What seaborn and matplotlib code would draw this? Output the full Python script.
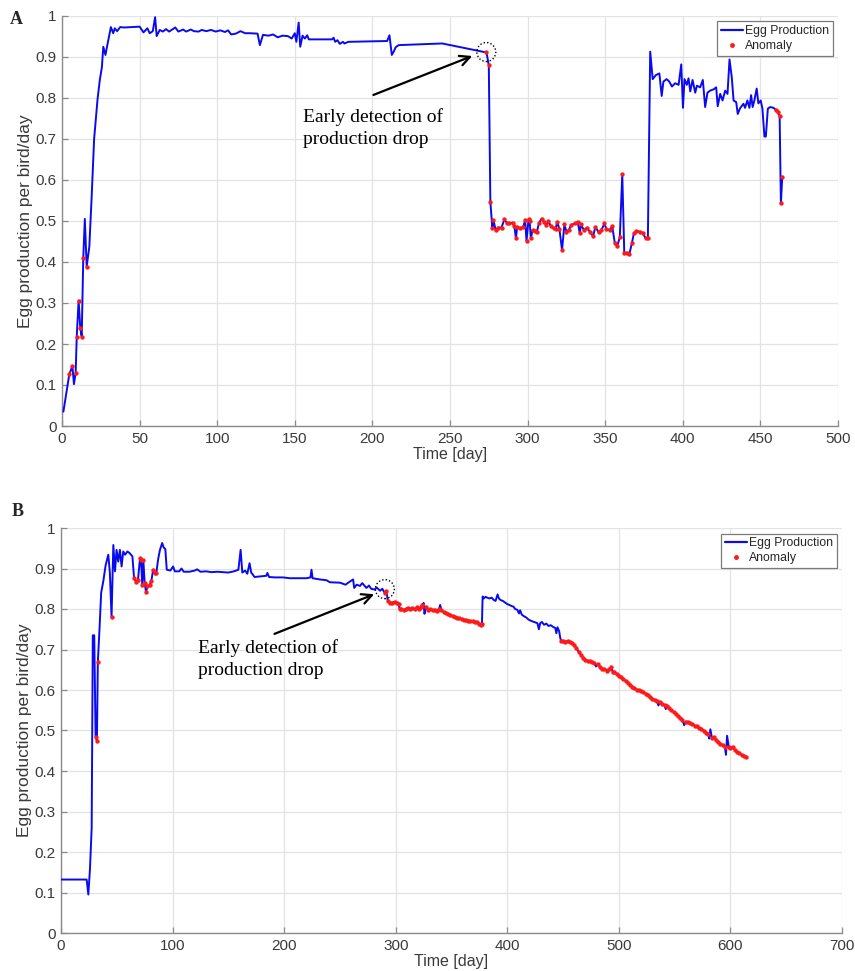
import numpy as np
import pandas as pd
import matplotlib
matplotlib.use("Agg")
import matplotlib.pyplot as plt
import matplotlib.transforms as mtransforms
from matplotlib.patches import Circle
from matplotlib.lines import Line2D
from matplotlib.ticker import FuncFormatter, MultipleLocator
import seaborn as sns

# ---------------- Flock A: daily egg production ----------------
a_day = [
    0.9, 4.7, 6.7, 7.7, 8.8, 9.5, 10.7, 11.8, 12.7, 13.7, 14.7, 15.9, 17.6, 19, 20.7,
    22.9, 24.4, 25.7, 26.6, 28, 29, 31.5, 33, 34, 35.5, 37.5, 40, 50, 52.5, 55,
    56.5, 58.5, 60, 61, 63, 65, 67, 69, 71, 73, 75, 78, 80, 83, 85, 88, 90, 93,
    96, 99, 102, 105, 107, 109, 112, 115, 118, 121, 126, 127.5, 129.5, 133, 136,
    139, 142, 145.5, 148, 150, 151, 152.5, 153.5, 155, 156.5, 158, 159, 174, 175,
    176, 177.5, 179, 181, 182, 184.5, 209.5, 211, 212.5, 214, 215, 217, 245,
    273.5, 275, 276, 277.3, 278, 279.4, 281, 283.2, 285, 286.5, 288.2, 290.3,
    291.4, 292.5, 293.3, 295, 297.2, 298.4, 299.3, 300.6, 301.3, 302.1, 303.2,
    304.9, 306, 307.4, 309.1, 310.6, 312, 313.4, 315, 316.8, 318, 319.1, 320.5,
    322.2, 323.7, 325, 326.5, 328.2, 330.8, 332.3, 333.6, 334.4, 336.2, 338.3,
    340, 342.2, 343.7, 345.8, 347.6, 349.5, 350.8, 353, 354.5, 356.2, 357.7,
    359.4, 361, 362.3, 363.8, 365.6, 367.2, 368.5, 370, 372.2, 374.3, 376, 377.5,
    379, 380.6, 382.7, 384.9, 386.4, 387.5, 389.6, 391.3, 393, 395.1, 397.3, 399,
    400.1, 401.1, 402.6, 403.7, 404.8, 406.3, 408, 409.1, 411.2, 412.9, 414.4,
    415.9, 417.6, 419.8, 421.5, 422.5, 424.1, 425.6, 427.3, 428.8, 430.1, 431.6,
    432.7, 434.4, 435.4, 436.9, 439.1, 440.1, 441.6, 442.9, 444, 445, 446.1,
    447.6, 448.7, 450.2, 451.3, 452.6, 453.5, 454.8, 456.3, 458.4, 460, 461.3,
    462.4, 463.2, 464.1,
]
a_val = [
    0.035, 0.126, 0.146, 0.102, 0.13, 0.218, 0.306, 0.238, 0.218, 0.409, 0.505, 0.389, 0.437, 0.55, 0.70,
    0.797, 0.845, 0.875, 0.925, 0.905, 0.925, 0.973, 0.958, 0.97, 0.963, 0.973, 0.972, 0.974, 0.96, 0.97,
    0.958, 0.963, 0.997, 0.951, 0.966, 0.962, 0.968, 0.962, 0.967, 0.972, 0.962, 0.967, 0.962, 0.967, 0.963, 0.962, 0.966, 0.963,
    0.966, 0.962, 0.965, 0.961, 0.965, 0.955, 0.957, 0.963, 0.958, 0.958, 0.957, 0.929, 0.954, 0.952, 0.955,
    0.948, 0.952, 0.951, 0.945, 0.958, 0.937, 0.984, 0.925, 0.952, 0.945, 0.953, 0.943, 0.943, 0.947,
    0.937, 0.941, 0.932, 0.937, 0.933, 0.937, 0.939, 0.953, 0.905, 0.915, 0.924, 0.929, 0.933,
    0.911, 0.88, 0.547, 0.482, 0.502, 0.478, 0.484, 0.484, 0.504, 0.496, 0.494, 0.496,
    0.488, 0.458, 0.486, 0.482, 0.486, 0.502, 0.451, 0.504, 0.5, 0.458, 0.478,
    0.476, 0.474, 0.496, 0.506, 0.498, 0.49, 0.5, 0.487, 0.482, 0.48, 0.498, 0.48,
    0.429, 0.492, 0.474, 0.478, 0.491, 0.494, 0.498, 0.47, 0.492, 0.478, 0.484,
    0.474, 0.463, 0.486, 0.472, 0.478, 0.494, 0.48, 0.478, 0.488, 0.446, 0.438,
    0.46, 0.614, 0.421, 0.423, 0.42, 0.446, 0.47, 0.476, 0.474, 0.47, 0.458, 0.459,
    0.913, 0.846, 0.856, 0.86, 0.805, 0.84, 0.846, 0.84, 0.828, 0.836, 0.832, 0.882,
    0.776, 0.846, 0.832, 0.848, 0.816, 0.844, 0.813, 0.83, 0.826, 0.844, 0.778,
    0.813, 0.818, 0.821, 0.826, 0.78, 0.81, 0.794, 0.818, 0.81, 0.894, 0.849,
    0.794, 0.79, 0.761, 0.775, 0.786, 0.776, 0.794, 0.776, 0.807, 0.778, 0.794,
    0.823, 0.787, 0.794, 0.774, 0.706, 0.706, 0.774, 0.778, 0.776, 0.771, 0.766,
    0.756, 0.543, 0.608,
]
# anomaly periods (every reading inside is flagged) and isolated flagged readings
a_anom_windows = [(273, 378), (459.5, 465)]
a_anom_days = [4.7, 6.7, 8.8, 9.5, 10.7, 11.8, 12.7, 13.7, 15.9]
a_normal_days = []

# ---------------- Flock B: daily egg production ----------------
b_day = [
    0, 23, 24.5, 26, 27.5, 28.5, 29.8, 31, 32.2, 33, 34.5, 36, 38, 40, 42.4, 43.8,
    45.3, 46.9, 48.4, 49.8, 51.3, 52.8, 54.3, 55.8, 57.5, 59.5, 61.5, 64,
    65.5, 67.5, 69, 70.8, 71.7, 72.8, 73.8, 75, 76.2, 77.5, 79.5, 81, 82.6, 84, 85.5,
    87, 88.7, 90.7, 92, 93.5, 94.8, 98, 100.5, 102, 106, 108, 110, 115, 120, 122,
    125, 130, 135, 140, 145, 150, 155, 159, 161, 162.5, 165, 167, 169, 170.5,
    173.5, 180, 184, 185, 186.5, 192, 199, 205, 214, 220, 223.6, 224.5, 225.5,
    232, 238, 241, 250, 255, 258, 261.8, 262.8, 265, 268, 270, 273.7, 276, 278,
    281, 283, 286, 288,
    290, 291.5, 293, 295, 297, 299, 301, 302.5, 303.6, 305, 307, 309, 311, 313,
    315, 317, 319, 321, 322.5, 324, 325, 325.8, 327, 329, 331, 333, 335, 337, 339,
    339.8, 341, 343, 345, 347, 349, 351, 353, 355, 357, 359, 361, 363, 365, 367,
    369, 371, 373, 375, 376.5, 377.3,
    377.9, 379, 380.5, 382, 384, 386, 388, 389.5, 391.3, 392.5, 394, 396, 398,
    400, 402, 404, 405.5, 407, 409, 410.5, 411.5, 413, 415, 417, 419, 421, 423,
    425, 427, 428.3, 429.5, 431, 433, 435, 437, 439, 441, 443, 444, 445, 446.5,
    447.5,
    448.5, 450, 452, 454, 456, 458, 460, 462, 464, 466, 468, 470, 472, 474, 476,
    478, 479.5, 481, 483, 485, 487, 489, 491, 493, 494.5, 496, 498, 500, 502, 504,
    506, 508, 510, 512, 514, 516, 518, 520, 522, 524, 526, 528, 530, 532, 534,
    535.5, 537, 539, 541, 542, 543.5, 545, 547, 549, 551, 553, 555, 557, 558.5,
    560, 562, 564, 566, 568, 570, 572, 574, 576, 578, 580, 581, 582, 583.5, 585,
    587, 589, 591, 593, 595, 596, 597, 598.5, 600, 602, 604, 606, 608, 610, 612,
    614,
]
b_val = [
    0.132, 0.132, 0.095, 0.16, 0.26, 0.735, 0.735, 0.485, 0.475, 0.668, 0.75, 0.84, 0.87, 0.908, 0.934, 0.889,
    0.78, 0.958, 0.893, 0.946, 0.917, 0.946, 0.905, 0.942, 0.934, 0.942, 0.938, 0.93,
    0.876, 0.866, 0.872, 0.925, 0.922, 0.86, 0.921, 0.864, 0.842, 0.856, 0.86, 0.87, 0.897, 0.888, 0.89,
    0.922, 0.946, 0.963, 0.952, 0.948, 0.897, 0.895, 0.905, 0.893, 0.893, 0.9, 0.892, 0.892, 0.895, 0.898,
    0.892, 0.893, 0.891, 0.892, 0.891, 0.89, 0.893, 0.897, 0.946, 0.89, 0.895, 0.887, 0.913, 0.89,
    0.879, 0.881, 0.882, 0.889, 0.879, 0.878, 0.878, 0.876, 0.876, 0.876, 0.878, 0.897, 0.876,
    0.873, 0.871, 0.866, 0.865, 0.86, 0.866, 0.873, 0.852, 0.86, 0.857, 0.864, 0.852, 0.858, 0.85,
    0.848, 0.853, 0.845, 0.85,
    0.84, 0.845, 0.82, 0.815, 0.816, 0.818, 0.815, 0.812, 0.8, 0.8, 0.798, 0.8, 0.803, 0.8,
    0.802, 0.8, 0.804, 0.8, 0.806, 0.81, 0.815, 0.788, 0.806, 0.797, 0.8, 0.798, 0.797, 0.795, 0.8,
    0.81, 0.797, 0.793, 0.79, 0.787, 0.785, 0.783, 0.781, 0.779, 0.777, 0.775, 0.773, 0.773, 0.771, 0.771,
    0.77, 0.768, 0.767, 0.763, 0.76, 0.764,
    0.831, 0.826, 0.83, 0.828, 0.826, 0.828, 0.822, 0.82, 0.836, 0.826, 0.822, 0.82, 0.816,
    0.812, 0.81, 0.807, 0.806, 0.8, 0.798, 0.789, 0.797, 0.786, 0.782, 0.779, 0.774, 0.771, 0.769,
    0.767, 0.765, 0.75, 0.765, 0.768, 0.761, 0.764, 0.758, 0.76, 0.756, 0.753, 0.74, 0.755, 0.745,
    0.728,
    0.72, 0.722, 0.719, 0.721, 0.718, 0.716, 0.711, 0.703, 0.694, 0.687, 0.68, 0.675, 0.672, 0.671, 0.668,
    0.666, 0.658, 0.664, 0.657, 0.651, 0.652, 0.648, 0.651, 0.656, 0.645, 0.644, 0.64, 0.635, 0.631, 0.627,
    0.622, 0.618, 0.613, 0.608, 0.604, 0.601, 0.599, 0.597, 0.595, 0.591, 0.587, 0.583, 0.579, 0.576, 0.572,
    0.562, 0.571, 0.566, 0.562, 0.553, 0.56, 0.555, 0.55, 0.546, 0.541, 0.536, 0.531, 0.527, 0.513,
    0.522, 0.52, 0.518, 0.516, 0.512, 0.51, 0.507, 0.504, 0.5, 0.495, 0.492, 0.48, 0.503, 0.481, 0.484,
    0.477, 0.471, 0.467, 0.464, 0.46, 0.44, 0.487, 0.46, 0.456, 0.46, 0.452, 0.447, 0.444, 0.44, 0.437,
    0.435,
]
b_anom_windows = [(30.5, 33.5), (45, 45.5), (65, 86), (289.5, 377.5), (448, 615)]
b_anom_days = []
b_normal_days = [325, 325.8, 339.8, 479.5, 535.5, 542, 558.5, 581, 582, 596, 597]

# annotation geometry (data coordinates): arrow tail, arrow head, circled point, text anchor
notes = {
    "A": dict(tail=(199, 0.805), head=(266, 0.905), ring=(273.4, 0.912), text=(155, 0.727)),
    "B": dict(tail=(189, 0.736), head=(283, 0.839), ring=(290.3, 0.849), text=(123, 0.677)),
}
x_limits = {"A": (0, 500), "B": (0, 700)}
x_steps = {"A": 50, "B": 100}

sns.set_theme(style="whitegrid")
plt.rcParams["font.family"] = ["Liberation Sans", "DejaVu Sans"]

fig = plt.figure(figsize=(8.55, 9.71), dpi=100)
W, H = 855, 971
axA = fig.add_axes([62 / W, 1 - 426 / H, 776 / W, 410 / H])
axB = fig.add_axes([61 / W, 1 - 933 / H, 781 / W, 405 / H])

LINE_BLUE = "#0a0af0"
DOT_RED = "#ff1a1a"


def anomaly_mask(day, windows, extra, normal):
    d = np.asarray(day, dtype=float)
    m = np.zeros(len(d), dtype=bool)
    for lo, hi in windows:
        m |= (d >= lo) & (d <= hi)
    m |= np.isin(d, extra)
    m &= ~np.isin(d, normal)
    return m


def draw_panel(ax, key, day, val, windows, extra, normal):
    df = pd.DataFrame({"day": day, "val": val})
    df["anomaly"] = anomaly_mask(day, windows, extra, normal)
    sns.lineplot(data=df, x="day", y="val", ax=ax, color=LINE_BLUE, lw=1.4,
                 estimator=None, sort=False, zorder=3)
    anom = df[df["anomaly"]]
    sns.scatterplot(data=anom, x="day", y="val", ax=ax, color=DOT_RED, s=10,
                    marker="o", linewidth=0, zorder=4)

    ax.set_xlim(*x_limits[key])
    ax.set_ylim(0, 1)
    ax.xaxis.set_major_locator(MultipleLocator(x_steps[key]))
    ax.yaxis.set_major_locator(MultipleLocator(0.1))
    ax.yaxis.set_major_formatter(FuncFormatter(lambda v, p: f"{v:g}"))
    ax.xaxis.set_major_formatter(FuncFormatter(lambda v, p: f"{v:g}"))

    ax.set_facecolor("white")
    ax.grid(True, color="#e3e3e3", lw=0.9)
    ax.set_axisbelow(True)
    for side in ("top", "right"):
        ax.spines[side].set_visible(False)
    for side in ("left", "bottom"):
        ax.spines[side].set_visible(True)
        ax.spines[side].set_color("#8a8a8a")
        ax.spines[side].set_linewidth(1.0)
    ax.tick_params(axis="both", direction="in", length=4, width=0.9,
                   color="#8a8a8a", labelsize=11, labelcolor="#3a3a3a",
                   left=True, bottom=True, pad=4)

    ax.set_xlabel("Time [day]", fontsize=11.5, color="#3a3a3a", labelpad=1)
    ax.set_ylabel("Egg production per bird/day", fontsize=12.5, color="#3a3a3a", labelpad=2)

    handles = [
        Line2D([], [], color=LINE_BLUE, lw=1.6),
        Line2D([], [], color=DOT_RED, marker="o", ms=2.5, lw=0),
    ]
    leg = ax.legend(handles, ["Egg Production", "Anomaly"], loc="upper right",
                    fontsize=8.8, frameon=True, fancybox=False, framealpha=1,
                    borderaxespad=0.45, handlelength=1.8, handletextpad=0.15,
                    borderpad=0.3, labelspacing=0.22)
    leg.get_frame().set_edgecolor("#7a7a7a")
    leg.get_frame().set_linewidth(0.9)

    n = notes[key]
    ax.annotate("", xy=n["head"], xytext=n["tail"],
                arrowprops=dict(arrowstyle="->", color="black", lw=1.6,
                                mutation_scale=18), zorder=6)
    ring_tr = fig.dpi_scale_trans + mtransforms.ScaledTranslation(
        n["ring"][0], n["ring"][1], ax.transData)
    ax.add_patch(Circle((0, 0), 0.095, transform=ring_tr, fill=False,
                        ec="black", lw=1.0, ls=(0, (1, 1.5)), zorder=6))
    ax.text(n["text"][0], n["text"][1], "Early detection of\nproduction drop",
            family=["Liberation Serif", "DejaVu Serif"], fontsize=14,
            ha="left", va="center", linespacing=1.4, color="black", zorder=6)


draw_panel(axA, "A", a_day, a_val, a_anom_windows, a_anom_days, a_normal_days)
draw_panel(axB, "B", b_day, b_val, b_anom_windows, b_anom_days, b_normal_days)

fig.text(10 / W, 1 - 19 / H, "A", family=["Liberation Serif"], fontweight="bold",
         fontsize=13, ha="left", va="center")
fig.text(12 / W, 1 - 511 / H, "B", family=["Liberation Serif"], fontweight="bold",
         fontsize=13, ha="left", va="center")

fig.savefig("out.png", dpi=100, facecolor="white")
